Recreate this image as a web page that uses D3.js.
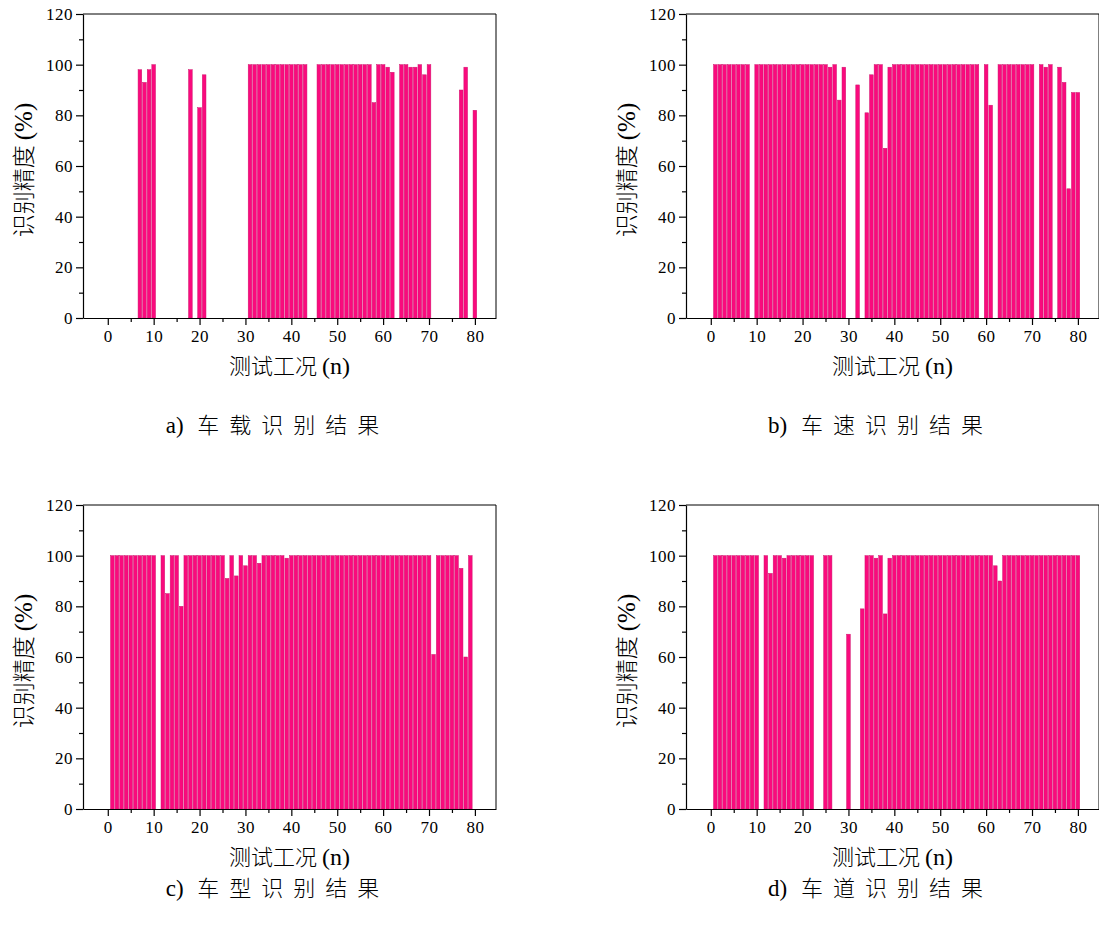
<!DOCTYPE html>
<html>
<head>
<meta charset="utf-8">
<script src="https://cdn.jsdelivr.net/npm/d3@7"></script>
<style>
  body { margin: 0; background: #fff; }
  .cn { font-family: "Noto Sans CJK SC", sans-serif; font-weight: 300; }
</style>
</head>
<body>
<script>
// recognition accuracy (%) for working case n = 1..80, null = no bar
var loadAcc = [
  null,null,null,null,null,null,98,93,98,100,
  null,null,null,null,null,null,null,98,null,83,
  96,null,null,null,null,null,null,null,null,null,
  100,100,100,100,100,100,100,100,100,100,
  100,100,100,null,null,100,100,100,100,100,
  100,100,100,100,100,100,100,85,100,100,
  99,97,null,100,100,99,99,100,96,100,
  null,null,null,null,null,null,90,99,null,82
];
var speedAcc = [
  100,100,100,100,100,100,100,100,null,100,
  100,100,100,100,100,100,100,100,100,100,
  100,100,100,100,100,99,100,86,99,null,
  null,92,null,81,96,100,100,67,99,100,
  100,100,100,100,100,100,100,100,100,100,
  100,100,100,100,100,100,100,100,null,100,
  84,null,100,100,100,100,100,100,100,100,
  null,100,99,100,null,99,93,51,89,89
];
var typeAcc = [
  100,100,100,100,100,100,100,100,100,100,
  null,100,85,100,100,80,100,100,100,100,
  100,100,100,100,100,91,100,92,100,96,
  100,100,97,100,100,100,100,100,99,100,
  100,100,100,100,100,100,100,100,100,100,
  100,100,100,100,100,100,100,100,100,100,
  100,100,100,100,100,100,100,100,100,100,
  61,100,100,100,100,100,95,60,100,null
];
var laneAcc = [
  100,100,100,100,100,100,100,100,100,100,
  null,100,93,100,100,99,100,100,100,100,
  100,100,null,null,100,100,null,null,null,69,
  null,null,79,100,100,99,100,77,99,100,
  100,100,100,100,100,100,100,100,100,100,
  100,100,100,100,100,100,100,100,100,100,
  100,96,90,100,100,100,100,100,100,100,
  100,100,100,100,100,100,100,100,100,100
];

var captionTags = ["a)", "b)", "c)", "d)"];
var captionText = ["车载识别结果", "车速识别结果", "车型识别结果", "车道识别结果"];
var series = [loadAcc, speedAcc, typeAcc, laneAcc];
var xTicks = [0, 10, 20, 30, 40, 50, 60, 70, 80];
var yTicks = [0, 20, 40, 60, 80, 100, 120];

var W = 1099, H = 928;
var svg = d3.select("body").append("svg")
    .attr("width", W)
    .attr("height", H);

// plot boxes: left/top of each panel, caption baseline
var boxes = [
  {left: 83, top: 14, cap: 433}, {left: 686, top: 14, cap: 433},
  {left: 83, top: 505, cap: 896}, {left: 686, top: 505, cap: 896}
];
var pw = 413, ph = 304;
var serif = "'Liberation Serif', 'Times New Roman', serif";

series.forEach(function(vals, i) {
  var b = boxes[i];
  var g = svg.append("g").attr("transform", "translate(" + b.left + "," + b.top + ")");

  var x = d3.scaleLinear().domain([-5.4, 84.6]).range([0, pw]);
  var y = d3.scaleLinear().domain([0, 120]).range([ph, 0]);

  var data = vals.map(function(v, k) { return {n: k + 1, v: v}; })
    .filter(function(d) { return d.v != null; });

  var bw = x(0.8) - x(0);
  g.selectAll("rect.bar")
    .data(data)
    .enter().append("rect")
    .attr("class", "bar")
    .attr("x", d => x(d.n) - bw / 2)
    .attr("width", bw)
    .attr("y", d => y(d.v))
    .attr("height", d => ph - y(d.v))
    .attr("fill", "#fa0a7d")
    .attr("stroke", "#d0146e")
    .attr("stroke-width", 0.5);

  // frame top / right
  g.append("path")
    .attr("d", "M0,0H" + pw + "V" + ph)
    .attr("fill", "none")
    .attr("stroke", "#000")
    .attr("stroke-width", 1);

  // minor ticks
  var xMinor = g.append("g").attr("transform", "translate(0," + ph + ")")
    .call(d3.axisBottom(x).tickValues([5, 15, 25, 35, 45, 55, 65, 75]).tickSize(4).tickFormat(""));
  xMinor.select(".domain").remove();
  var yMinor = g.append("g")
    .call(d3.axisLeft(y).tickValues([10, 30, 50, 70, 90, 110]).tickSize(4).tickFormat(""));
  yMinor.select(".domain").remove();

  var xAxis = g.append("g").attr("transform", "translate(0," + ph + ")")
    .call(d3.axisBottom(x).tickValues(xTicks).tickSize(7).tickSizeOuter(0).tickPadding(5));
  var yAxis = g.append("g")
    .call(d3.axisLeft(y).tickValues(yTicks).tickSize(7).tickSizeOuter(0).tickPadding(3));
  [xAxis, yAxis, xMinor, yMinor].forEach(function(a) {
    a.selectAll("line, path").attr("stroke", "#000").attr("stroke-width", 1.2);
  });
  [xAxis, yAxis].forEach(function(a) {
    a.selectAll("text")
      .attr("font-family", serif)
      .attr("font-size", 17)
      .attr("letter-spacing", "0.5px")
      .attr("fill", "#000");
  });

  // axis titles
  var xl = g.append("text")
    .attr("class", "cn")
    .attr("x", pw / 2)
    .attr("y", ph + 56)
    .attr("text-anchor", "middle")
    .attr("font-size", 22);
  xl.append("tspan").text("测试工况 ");
  xl.append("tspan").attr("font-family", serif).attr("font-size", 24).text("(n)");

  var yl = g.append("text")
    .attr("class", "cn")
    .attr("transform", "translate(-51," + (ph / 2 + 4) + ") rotate(-90)")
    .attr("text-anchor", "middle")
    .attr("font-size", 23);
  yl.append("tspan").text("识别精度 ");
  yl.append("tspan").attr("font-family", serif).attr("font-size", 25).text("(%)");

  var cap = svg.append("text")
    .attr("x", b.left + pw / 2 - 12)
    .attr("y", b.cap)
    .attr("text-anchor", "middle")
    .attr("font-size", 22);
  cap.append("tspan").attr("font-family", serif).attr("font-size", 23).text(captionTags[i] + " ");
  cap.append("tspan").attr("class", "cn").attr("dx", 8).attr("letter-spacing", "10px").text(captionText[i]);
});
</script>
</body>
</html>
